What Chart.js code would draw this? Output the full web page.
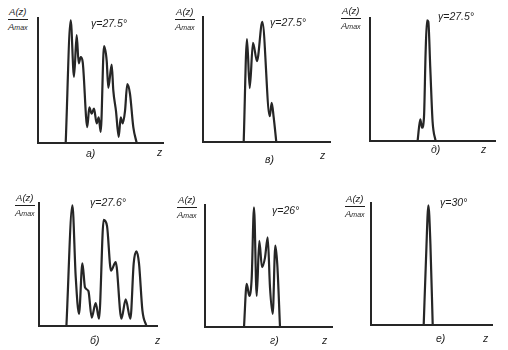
<!DOCTYPE html>
<html>
<head>
<meta charset="utf-8">
<script src="https://cdn.jsdelivr.net/npm/chart.js@4"></script>
<style>
  body { margin: 0; width: 508px; height: 350px; background: #fff; position: relative; overflow: hidden;
         font-family: 'Liberation Sans', sans-serif; color: #1e1e1e; }
  canvas { position: absolute; }
  .t { position: absolute; font-size: 10.5px; line-height: 1; white-space: nowrap; font-style: italic; }
  .frac { position: absolute; font-size: 9.5px; line-height: 1; text-align: center; font-style: italic; }
  .frac .num { border-bottom: 1px solid #1e1e1e; padding-bottom: 2px; margin-bottom: 2px; }
</style>
</head>
<body>
<script>
// z positions and normalised amplitude A(z)/Amax
const zA = [27.7, 32.7, 36, 38.7, 40.7, 42.7, 44.7, 49.3, 51.3, 53.7, 56, 58.7, 60.7, 62.7, 66, 68.7, 70.3, 73.7, 75.3, 78, 80.7, 82.7, 84.7, 87, 89.3, 92, 95.3, 98.7];
const ampA = [0, 1.0, 0.54, 0.88, 0.65, 0.7, 0.66, 0.13, 0.29, 0.24, 0.28, 0.16, 0.21, 0.09, 0.79, 0.67, 0.45, 0.64, 0.43, 0.26, 0.05, 0.21, 0.16, 0.26, 0.48, 0.4, 0.13, 0];

const zV = [40.7, 44, 46.7, 50, 54, 59.3, 66.7, 68.7, 70.7, 73.3];
const ampV = [0, 0.84, 0.44, 0.81, 0.66, 0.98, 0.21, 0.32, 0.2, 0];

const zD = [47.6, 50.3, 52, 54, 55.6, 57, 58.3, 60.3, 62.6, 65.6];
const ampD = [0, 0.18, 0.11, 0.2, 0.73, 1.0, 0.99, 0.6, 0.16, 0];

const zB = [27.4, 33.4, 36.7, 40, 43.4, 46, 49.4, 52.7, 56.7, 60, 64.7, 68, 72, 76.7, 82.4, 86.7, 91.4, 94.7, 97.4, 100, 103.4, 107.4];
const ampB = [0, 1.0, 0.41, 0.1, 0.52, 0.32, 0.29, 0.07, 0.19, 0.06, 0.88, 0.83, 0.46, 0.53, 0.06, 0.22, 0.06, 0.52, 0.62, 0.52, 0.13, 0];

const zG = [39, 41.7, 44.3, 46.7, 49, 51.7, 54.3, 57, 60, 62.7, 65, 67.7, 70.3, 72.3, 75];
const ampG = [0, 0.36, 0.26, 0.41, 1.0, 0.26, 0.72, 0.5, 0.58, 0.75, 0.33, 0.11, 0.68, 0.52, 0];

const zE = [52.7, 55, 57.4, 59.4, 61.7];
const ampE = [0, 0.55, 1.0, 0.68, 0];

const letters = ['а)', 'в)', 'д)', 'б)', 'г)', 'е)'];
const gammas = ['γ=27.5°', 'γ=27.5°', 'γ=27.5°', 'γ=27.6°', 'γ=26°', 'γ=30°'];
const zRange = [125, 127, 125, 118, 127, 121];

// layout of each small plot (pixels in the page)
const panels = [
  { z: zA, a: ampA, x0: 38,  x1: 163, top: 18,  bot: 143, gx: 91,  gy: 18,  lx: 86,  ly: 148, zx: 157, zy: 147, fx: 8,   fy: 7 },
  { z: zV, a: ampV, x0: 203, x1: 330, top: 17,  bot: 142, gx: 270, gy: 17,  lx: 265, ly: 154, zx: 320, zy: 150, fx: 175, fy: 7 },
  { z: zD, a: ampD, x0: 370, x1: 495, top: 18,  bot: 141, gx: 438, gy: 11,  lx: 431, ly: 144, zx: 481, zy: 144, fx: 341, fy: 6 },
  { z: zB, a: ampB, x0: 39,  x1: 157, top: 203, bot: 326, gx: 90,  gy: 197, lx: 90,  ly: 335, zx: 155, zy: 335, fx: 15,  fy: 193 },
  { z: zG, a: ampG, x0: 205, x1: 332, top: 205, bot: 327, gx: 272, gy: 205, lx: 270, ly: 335, zx: 322, zy: 335, fx: 177, fy: 195 },
  { z: zE, a: ampE, x0: 371, x1: 492, top: 203, bot: 325, gx: 440, gy: 197, lx: 436, ly: 333, zx: 483, zy: 333, fx: 345, fy: 194 },
];

const PAD = 4;
const INK = '#262626';

function addText(cls, html, x, y) {
  const el = document.createElement('div');
  el.className = cls;
  el.innerHTML = html;
  el.style.left = x + 'px';
  el.style.top = y + 'px';
  document.body.appendChild(el);
}

panels.forEach((p, i) => {
  const canvas = document.createElement('canvas');
  canvas.width = p.x1 - p.x0 + PAD * 2;
  canvas.height = p.bot - p.top + PAD * 2;
  canvas.style.left = (p.x0 - PAD) + 'px';
  canvas.style.top = (p.top - PAD) + 'px';
  document.body.appendChild(canvas);

  new Chart(canvas, {
    type: 'line',
    data: {
      datasets: [{
        data: p.z.map((z, k) => ({ x: z, y: p.a[k] })),
        borderColor: INK,
        borderWidth: 2.2,
        pointRadius: 0,
        cubicInterpolationMode: 'monotone',
        fill: false,
        clip: false,
      }],
    },
    options: {
      responsive: false,
      animation: false,
      layout: { padding: PAD },
      plugins: { legend: { display: false }, tooltip: { enabled: false } },
      scales: {
        x: { type: 'linear', min: 0, max: zRange[i], ticks: { display: false },
             grid: { display: false, drawTicks: false }, border: { color: INK, width: 2 } },
        y: { min: 0, max: 1.02, ticks: { display: false },
             grid: { display: false, drawTicks: false }, border: { color: INK, width: 2 } },
      },
    },
  });

  addText('frac', '<div class="num">A(z)</div><div>A<span style="font-size:7px">max</span></div>', p.fx, p.fy);
  addText('t', gammas[i], p.gx, p.gy);
  addText('t', letters[i], p.lx, p.ly);
  addText('t', 'z', p.zx, p.zy);
});
</script>
</body>
</html>
